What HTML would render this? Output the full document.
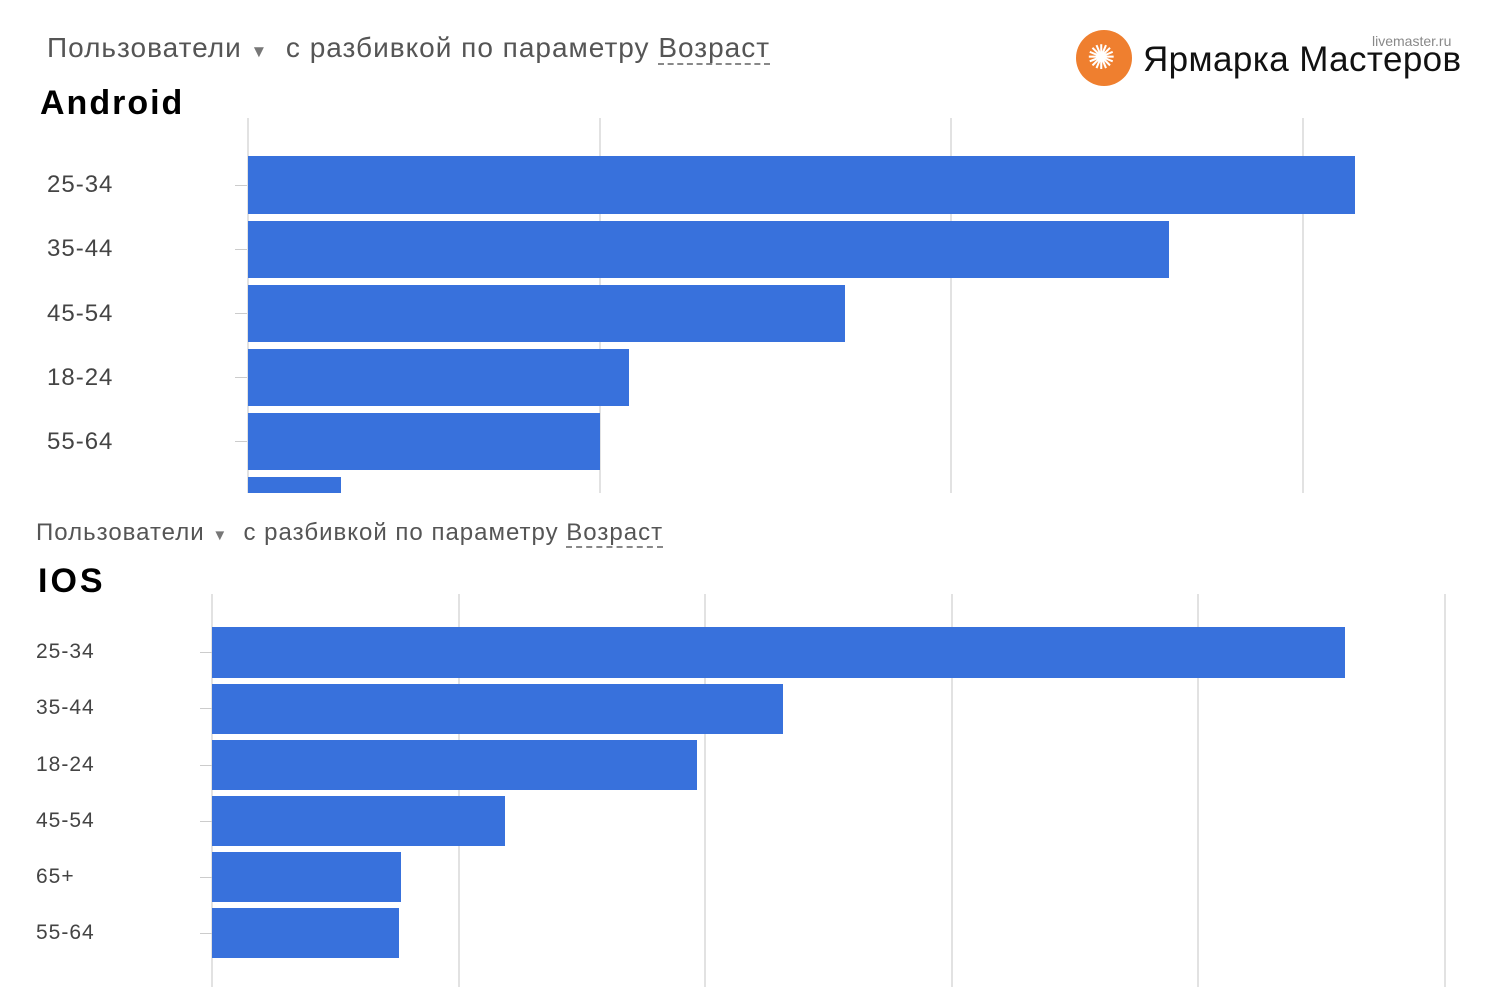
<!DOCTYPE html><html><head><meta charset="utf-8"><style>
body{margin:0;width:1500px;height:1000px;background:#fff;position:relative;overflow:hidden;font-family:"Liberation Sans","Noto Sans CJK SC",sans-serif}
.a{position:absolute;white-space:nowrap}
.g{position:absolute;width:2px;background:#e2e2e2}
.b{position:absolute;background:#3871dc}
.t{position:absolute;height:1px;width:12px;background:#ccc}
.l{position:absolute;color:#444;letter-spacing:1px}
.u{border-bottom:2px dashed #888}
</style></head><body>
<div class="a" style="left:47px;top:32px;font-size:28px;color:#555;letter-spacing:1px">Пользователи <span style="font-size:17px;color:#777">▼</span> &nbsp;с разбивкой по параметру <span class="u">Возраст</span></div>
<div class="a" style="left:40px;top:84px;font-size:34px;font-weight:bold;color:#000;letter-spacing:2px">Android</div>
<div class="a" style="left:1076px;top:30px;width:56px;height:56px;border-radius:50%;background:#ef7f2f"></div>
<div class="a" style="left:1087px;top:38px;font-size:34px;color:#fff">✺</div>
<div class="a" style="left:1372px;top:33px;font-size:14px;color:#888">livemaster.ru</div>
<div class="a" style="left:1143px;top:40px;font-size:35px;color:#111;letter-spacing:0.4px">Ярмарка Мастеров</div>

<div class="g" style="left:247px;top:118px;height:375px"></div>
<div class="g" style="left:599px;top:118px;height:375px"></div>
<div class="g" style="left:950px;top:118px;height:375px"></div>
<div class="g" style="left:1302px;top:118px;height:375px"></div>
<div class="t" style="left:235px;top:185px"></div><div class="t" style="left:235px;top:249px"></div><div class="t" style="left:235px;top:313px"></div><div class="t" style="left:235px;top:377px"></div><div class="t" style="left:235px;top:441px"></div>
<div class="b" style="left:248px;top:156px;width:1107px;height:58px"></div>
<div class="b" style="left:248px;top:221px;width:921px;height:57px"></div>
<div class="b" style="left:248px;top:285px;width:597px;height:57px"></div>
<div class="b" style="left:248px;top:349px;width:381px;height:57px"></div>
<div class="b" style="left:248px;top:413px;width:352px;height:57px"></div>
<div class="b" style="left:248px;top:477px;width:93px;height:16px"></div>
<div class="l" style="left:47px;top:171px;font-size:24px">25-34</div>
<div class="l" style="left:47px;top:235px;font-size:24px">35-44</div>
<div class="l" style="left:47px;top:300px;font-size:24px">45-54</div>
<div class="l" style="left:47px;top:364px;font-size:24px">18-24</div>
<div class="l" style="left:47px;top:428px;font-size:24px">55-64</div>

<div class="a" style="left:36px;top:519px;font-size:24px;color:#555;letter-spacing:1px">Пользователи <span style="font-size:15px;color:#777">▼</span> &nbsp;с разбивкой по параметру <span class="u">Возраст</span></div>
<div class="a" style="left:38px;top:562px;font-size:34px;font-weight:bold;color:#000;letter-spacing:3px">IOS</div>

<div class="g" style="left:211px;top:594px;height:393px"></div>
<div class="g" style="left:458px;top:594px;height:393px"></div>
<div class="g" style="left:704px;top:594px;height:393px"></div>
<div class="g" style="left:951px;top:594px;height:393px"></div>
<div class="g" style="left:1197px;top:594px;height:393px"></div>
<div class="g" style="left:1444px;top:594px;height:393px"></div>
<div class="t" style="left:200px;top:652px"></div><div class="t" style="left:200px;top:708px"></div><div class="t" style="left:200px;top:765px"></div><div class="t" style="left:200px;top:821px"></div><div class="t" style="left:200px;top:877px"></div><div class="t" style="left:200px;top:933px"></div>
<div class="b" style="left:212px;top:627px;width:1133px;height:51px"></div>
<div class="b" style="left:212px;top:684px;width:571px;height:50px"></div>
<div class="b" style="left:212px;top:740px;width:485px;height:50px"></div>
<div class="b" style="left:212px;top:796px;width:293px;height:50px"></div>
<div class="b" style="left:212px;top:852px;width:189px;height:50px"></div>
<div class="b" style="left:212px;top:908px;width:187px;height:50px"></div>
<div class="l" style="left:36px;top:640px;font-size:21px">25-34</div>
<div class="l" style="left:36px;top:696px;font-size:21px">35-44</div>
<div class="l" style="left:36px;top:753px;font-size:21px">18-24</div>
<div class="l" style="left:36px;top:809px;font-size:21px">45-54</div>
<div class="l" style="left:36px;top:865px;font-size:21px">65+</div>
<div class="l" style="left:36px;top:921px;font-size:21px">55-64</div>
</body></html>
